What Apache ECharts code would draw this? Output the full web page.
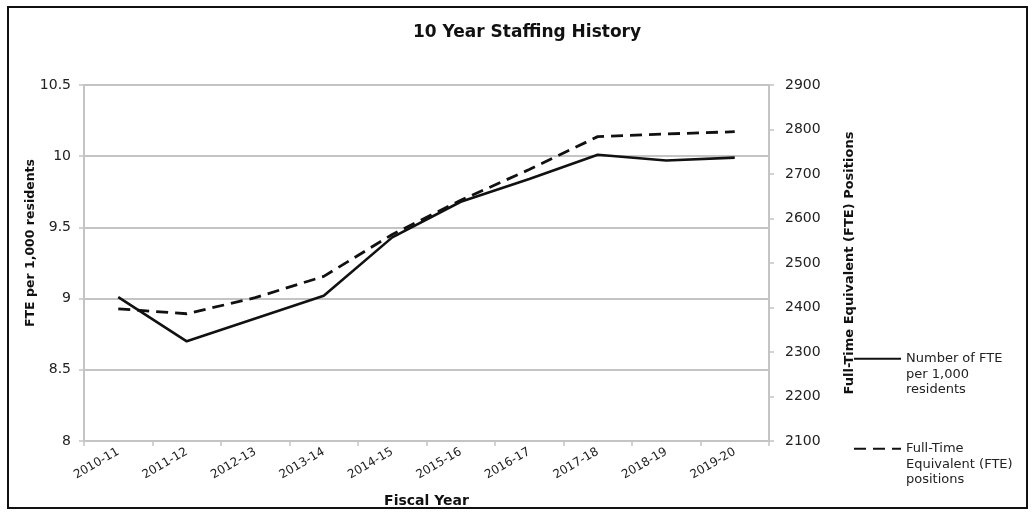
<!DOCTYPE html>
<html>
<head>
<meta charset="utf-8">
<script src="https://cdn.jsdelivr.net/npm/echarts@6/dist/echarts.min.js"></script>
<style>
html,body{margin:0;padding:0;background:#fff;}
#chart{width:1034px;height:513px;}
</style>
</head>
<body>
<div id="chart"></div>
<script>
var categories = ['2010-11','2011-12','2012-13','2013-14','2014-15','2015-16','2016-17','2017-18','2018-19','2019-20'];
var ftePer1000 = [9.01, 8.70, 8.86, 9.02, 9.43, 9.68, 9.84, 10.01, 9.97, 9.99];
var ftePositions = [2397, 2386, 2422, 2470, 2564, 2641, 2710, 2784, 2790, 2795];
var leftTicks = {min: 8, max: 10.5, interval: 0.5};
var rightTicks = {min: 2100, max: 2900, interval: 100};
var seriesNames = ['Number of FTE\nper 1,000\nresidents', 'Full-Time\nEquivalent (FTE)\npositions'];

var FONT = 'DejaVu Sans';
var GRID_C = '#c4c4c4';
var chart = echarts.init(document.getElementById('chart'));
var legendText = {fontFamily: FONT, fontSize: 13, color: '#222', lineHeight: 15.5};
function legendFmt(name) { return '\n\n' + name; }
chart.setOption({
  animation: false,
  backgroundColor: '#fff',
  title: {
    text: '10 Year Staffing History',
    left: 522, top: 19, textAlign: 'center',
    textStyle: {fontFamily: FONT, fontWeight: 'bold', fontSize: 17, color: '#111'}
  },
  graphic: [{
    type: 'rect', shape: {x: 8, y: 7, width: 1019, height: 501},
    style: {fill: 'none', stroke: '#111', lineWidth: 2}, silent: true
  }],
  grid: {left: 84, right: 265, top: 85, bottom: 70, containLabel: false},
  legend: [{
    data: [seriesNames[0]], orient: 'vertical', left: 853, top: 320, padding: 0,
    itemWidth: 47, itemHeight: 14, itemGap: 10, textStyle: legendText,
    formatter: legendFmt, itemStyle: {opacity: 0}
  }, {
    data: [seriesNames[1]], orient: 'vertical', left: 853, top: 410, padding: 0,
    itemWidth: 47, itemHeight: 14, itemGap: 10, textStyle: legendText,
    formatter: legendFmt, itemStyle: {opacity: 0}
  }],
  xAxis: {
    type: 'category', data: categories, boundaryGap: true,
    name: 'Fiscal Year', nameLocation: 'middle', nameGap: 53, nameMoveOverlap: false,
    nameTextStyle: {fontFamily: FONT, fontWeight: 'bold', fontSize: 14, color: '#111'},
    axisLine: {lineStyle: {color: GRID_C, width: 2}},
    axisTick: {show: true, alignWithLabel: false, length: 5, lineStyle: {color: GRID_C, width: 1.5}},
    axisLabel: {rotate: 30, fontFamily: FONT, fontSize: 12, color: '#222', margin: 10},
    splitLine: {show: false}
  },
  yAxis: [{
    type: 'value', position: 'left',
    min: leftTicks.min, max: leftTicks.max, interval: leftTicks.interval,
    name: 'FTE per 1,000 residents', nameLocation: 'middle', nameGap: 47, nameRotate: 90, nameMoveOverlap: false,
    nameTextStyle: {fontFamily: FONT, fontWeight: 'bold', fontSize: 12.5, color: '#111', padding: [0, 0, 0, 40]},
    axisLine: {show: true, lineStyle: {color: GRID_C, width: 2}},
    axisTick: {show: true, length: 5, lineStyle: {color: GRID_C, width: 1.5}},
    axisLabel: {fontFamily: FONT, fontSize: 14, color: '#222', margin: 13},
    splitLine: {show: true, lineStyle: {color: GRID_C, width: 2}}
  }, {
    type: 'value', position: 'right',
    min: rightTicks.min, max: rightTicks.max, interval: rightTicks.interval,
    name: 'Full-Time Equivalent (FTE) Positions', nameLocation: 'middle', nameGap: 74, nameRotate: 90, nameMoveOverlap: false,
    nameTextStyle: {fontFamily: FONT, fontWeight: 'bold', fontSize: 13, color: '#111'},
    axisLine: {show: true, lineStyle: {color: GRID_C, width: 2}},
    axisTick: {show: true, length: 5, lineStyle: {color: GRID_C, width: 1.5}},
    axisLabel: {fontFamily: FONT, fontSize: 14, color: '#222', margin: 16, formatter: function (v) { return String(v); }},
    splitLine: {show: false}
  }],
  series: [{
    name: seriesNames[0], type: 'line', yAxisIndex: 0, data: ftePer1000,
    symbol: 'none', lineStyle: {color: '#111', width: 2.6, type: 'solid'},
    itemStyle: {color: '#111'}, z: 3
  }, {
    name: seriesNames[1], type: 'line', yAxisIndex: 1, data: ftePositions,
    symbol: 'none', lineStyle: {color: '#111', width: 2.8, type: [12, 7]},
    itemStyle: {color: '#111'}, z: 2
  }]
});
</script>
</body>
</html>
